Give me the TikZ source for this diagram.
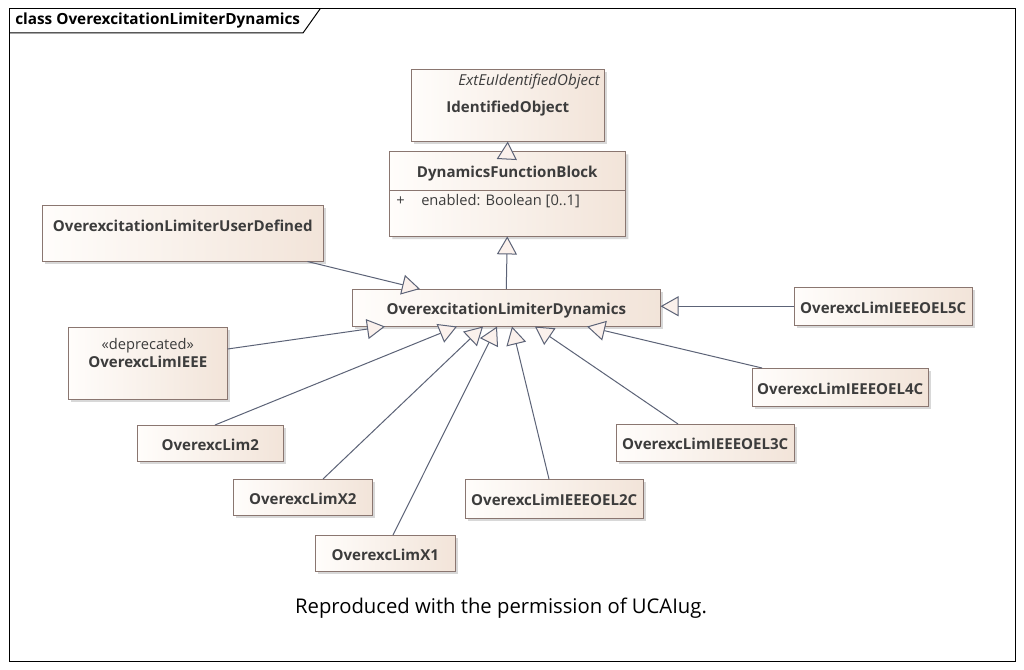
\documentclass[tikz,border=0pt]{standalone}
\usepackage{fontspec}
\setmainfont{Open Sans}
\usetikzlibrary{arrows.meta,shadows,shapes.multipart}

\newdimen\upx \upx=0.75pt
\definecolor{boxline}{HTML}{8A7670}
\definecolor{boxleft}{HTML}{FFFDFB}
\definecolor{boxright}{HTML}{F2E4D9}
\definecolor{tipfill}{HTML}{FBF1EC}
\definecolor{genline}{HTML}{5C6377}
\definecolor{txt}{HTML}{3C3C3C}
\newcommand{\namefont}{\bfseries\fontsize{11.3}{13}\selectfont}
\newcommand{\plainfont}{\fontsize{11}{13}\selectfont}

\begin{document}
\begin{tikzpicture}[x=0.75pt, y=-0.75pt,
    >={Triangle[length=13.5pt, width=15pt, fill=tipfill]},
    cls/.style={draw=boxline, left color=boxleft, right color=boxright,
      anchor=north west, inner sep=0pt, text=txt, font=\namefont,
      drop shadow={shadow xshift=2.25pt, shadow yshift=-2.25pt, fill=black!30}},
    one/.style={cls, text height=11.5pt, text depth=1.2pt},
    lbl/.style={text=txt, font=\plainfont},
    gen/.style={color=genline, line width=0.75pt}]
    \useasboundingbox[fill=white] (0,0) rectangle (1024,670);

    % frame and title
    \draw[line width=0.75pt] (9,9) rectangle (1015,661);
    \draw[line width=0.75pt] (9,33) -- (303,33) -- (320,9);
    \node[anchor=west, inner sep=0pt, font=\bfseries\fontsize{11.5}{13}\selectfont] (title) at (15,21) {class OverexcitationLimiterDynamics};

    % classes
    \node[one, minimum width=193\upx, minimum height=72\upx,
      label={[lbl, anchor=north east, font=\itshape\fontsize{11.3}{13}\selectfont]north east:ExtEuIdentifiedObject}] (io) at (411,69) {IdentifiedObject};
    \node[cls, rectangle split, rectangle split parts=2, rectangle split part align={center,left},
      minimum width=236\upx, inner xsep=7\upx, inner ysep=4\upx] (dfb) at (389,151)
      {\rule[-5.7pt]{0pt}{22.5pt}DynamicsFunctionBlock\nodepart{two}\mdseries\plainfont\rule[-20pt]{0pt}{14.5pt}\makebox[25\upx][l]{+}enabled: Boolean [0..1]};
    \node[one, minimum width=308\upx, minimum height=37\upx] (old) at (352,289) {OverexcitationLimiterDynamics};
    \node[cls, minimum width=281\upx, minimum height=56\upx, text height=26\upx, text depth=30\upx] (ud) at (42,205) {OverexcitationLimiterUserDefined};
    \node[cls, minimum width=159\upx, minimum height=72\upx, text height=40\upx, text depth=32\upx,
      label={[lbl, anchor=north, yshift=-7\upx]north:«deprecated»}] (ieee) at (68,327) {OverexcLimIEEE};
    \node[one, minimum width=146\upx, minimum height=36\upx] (lim2) at (137,425) {OverexcLim2};
    \node[one, minimum width=139\upx, minimum height=36\upx] (x2) at (233,479) {OverexcLimX2};
    \node[one, minimum width=140\upx, minimum height=36\upx] (x1) at (315,535) {OverexcLimX1};
    \node[one, minimum width=178\upx, minimum height=39\upx] (c2) at (465,479) {OverexcLimIEEEOEL2C};
    \node[one, minimum width=178\upx, minimum height=37\upx] (c3) at (616,424) {OverexcLimIEEEOEL3C};
    \node[one, minimum width=176\upx, minimum height=38\upx] (c4) at (752,368) {OverexcLimIEEEOEL4C};
    \node[one, minimum width=178\upx, minimum height=38\upx] (c5) at (794,287) {OverexcLimIEEEOEL5C};

    % generalisations
    \draw[gen, ->] (dfb.north) -- (io.south);
    \draw[gen, ->] (old.north) -- (dfb.south);
    \path[gen, ->]
    ([xshift=-16\upx]ud.south east) edge ([xshift=68\upx]old.north west)
    ([yshift=-22\upx]ieee.north east) edge ([xshift=33\upx]old.south west)
    ([xshift=78\upx]lim2.north west) edge ([xshift=105\upx]old.south west)
    ([xshift=90\upx]x2.north west) edge ([xshift=131\upx]old.south west)
    ([xshift=78\upx]x1.north west) edge ([xshift=145\upx]old.south west)
    ([xshift=84\upx]c2.north west) edge ([xshift=160\upx]old.south west)
    ([xshift=62\upx]c3.north west) edge ([xshift=183\upx]old.south west)
    ([xshift=10\upx]c4.north west) edge ([xshift=235\upx]old.south west)
    (c5.west) edge (c5.west -| old.east);

    \node[font=\fontsize{15.2}{18}\selectfont] (note) at (501,608) {Reproduced with the permission of UCAIug.};
\end{tikzpicture}
\end{document}
